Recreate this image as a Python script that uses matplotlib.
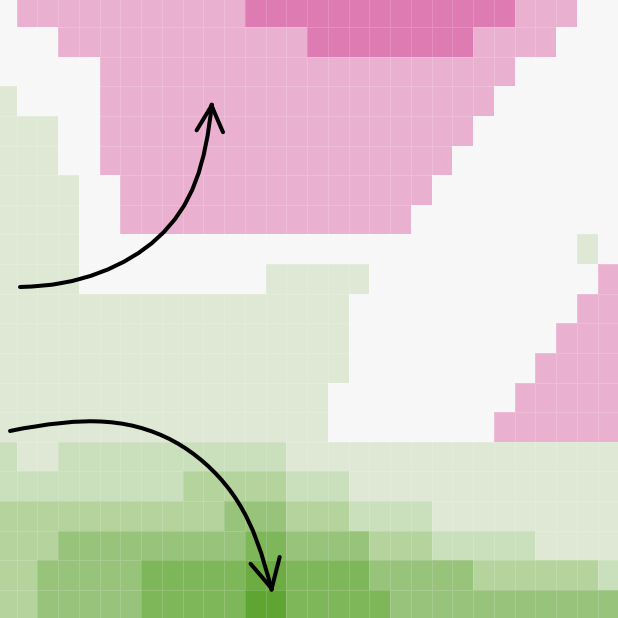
import numpy as np
import matplotlib
matplotlib.use("Agg")
import matplotlib.pyplot as plt
from matplotlib.colors import ListedColormap, BoundaryNorm

# Level codes: -2 strong pink, -1 pink, 0 neutral, 1..7 increasingly strong green
level_values = [-2, -1, 0, 1, 2, 3, 4, 5, 6, 7]
level_colors = ["#de7bb2", "#eab0d0", "#f7f7f7", "#dee8d5", "#cadfbb",
                "#b4d39d", "#98c37a", "#7eb65a", "#6cac42", "#5fa532"]

# Each row (top to bottom) as runs of (level, number of cells); 30 cells per row
row_runs = [
    [(0, 1), (-1, 11), (-2, 13), (-1, 3), (0, 2)],
    [(0, 3), (-1, 12), (-2, 8), (-1, 4), (0, 3)],
    [(0, 5), (-1, 20), (0, 5)],
    [(1, 1), (0, 4), (-1, 19), (0, 6)],
    [(1, 3), (0, 2), (-1, 18), (0, 7)],
    [(1, 3), (0, 2), (-1, 17), (0, 8)],
    [(1, 4), (0, 2), (-1, 15), (0, 9)],
    [(1, 4), (0, 2), (-1, 14), (0, 10)],
    [(1, 4), (0, 24), (1, 1), (0, 1)],
    [(1, 4), (0, 9), (1, 5), (0, 11), (-1, 1)],
    [(1, 17), (0, 11), (-1, 2)],
    [(1, 17), (0, 10), (-1, 3)],
    [(1, 17), (0, 9), (-1, 4)],
    [(1, 16), (0, 9), (-1, 5)],
    [(1, 16), (0, 8), (-1, 6)],
    [(2, 1), (1, 2), (2, 11), (1, 16)],
    [(2, 9), (3, 5), (2, 3), (1, 13)],
    [(3, 11), (4, 3), (3, 3), (2, 4), (1, 9)],
    [(3, 3), (4, 9), (5, 2), (4, 4), (3, 3), (2, 5), (1, 4)],
    [(3, 2), (4, 5), (5, 5), (6, 2), (5, 4), (4, 5), (3, 6), (2, 1)],
    [(3, 2), (4, 5), (5, 5), (7, 2), (5, 5), (4, 11)],
]

grid = np.array([np.concatenate([np.full(n, v) for v, n in runs]) for runs in row_runs])
n_rows, n_cols = grid.shape

cmap = ListedColormap(level_colors)
bounds = np.arange(min(level_values) - 0.5, max(level_values) + 1.0, 1.0)
norm = BoundaryNorm(bounds, cmap.N)

fig = plt.figure(figsize=(6.18, 6.18), dpi=100)
fig.patch.set_facecolor("#f7f7f7")
ax = fig.add_axes([0, 0, 1, 1])
ax.pcolormesh(np.arange(n_cols + 1), np.arange(n_rows + 1), grid, cmap=cmap, norm=norm,
              edgecolors=(1, 1, 1, 0.16), linewidth=0.5)
ax.set_xlim(0.193, 29.976)
ax.set_ylim(20.945, 0.088)
ax.axis("off")

arrows = [
    dict(xy=(0.343, 0.838), xytext=(0.0324, 0.5356), rad=0.45, ms=24),
    dict(xy=(0.4417, 0.0388), xytext=(0.0162, 0.3026), rad=-0.5, ms=27),
]
for a in arrows:
    ann = ax.annotate("", xy=a["xy"], xytext=a["xytext"], xycoords="axes fraction",
                      textcoords="axes fraction",
                      arrowprops=dict(arrowstyle="->,head_length=0.8,head_width=0.4",
                                      connectionstyle=f"arc3,rad={a['rad']}",
                                      color="black", lw=2.9, shrinkA=0, shrinkB=0,
                                      mutation_scale=a["ms"], capstyle="round",
                                      joinstyle="round"))
    ann.arrow_patch.set_sketch_params(0.45, 160, 2)

fig.savefig("out.png", dpi=100, facecolor=fig.get_facecolor())
